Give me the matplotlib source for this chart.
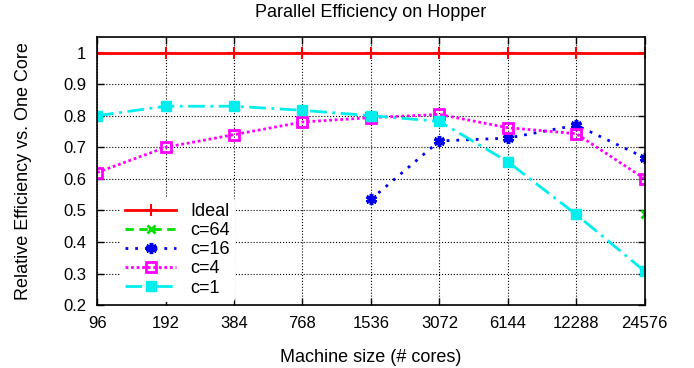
import matplotlib
matplotlib.use('Agg')
import matplotlib.pyplot as plt

plt.rcParams['font.family'] = ['Liberation Sans', 'DejaVu Sans']

cores = [96, 192, 384, 768, 1536, 3072, 6144, 12288, 24576]
ideal = [1, 1, 1, 1, 1, 1, 1, 1, 1]
c64_x = [24576]
c64 = [0.49]
c16_x = [1536, 3072, 6144, 12288, 24576]
c16 = [0.535, 0.72, 0.729, 0.77, 0.667]
c4 = [0.62, 0.70, 0.74, 0.78, 0.794, 0.804, 0.762, 0.743, 0.60]
c1 = [0.80, 0.83, 0.83, 0.817, 0.80, 0.782, 0.654, 0.487, 0.307]
yticks = [0.2, 0.3, 0.4, 0.5, 0.6, 0.7, 0.8, 0.9, 1]

fig = plt.figure(figsize=(6.94, 3.68), dpi=100)
ax = fig.add_axes([0.14, 0.171, 0.789, 0.729])

ax.plot(cores, ideal, color='red', lw=2, marker='+', ms=8, mew=1.5, label='Ideal')
ax.plot(c64_x, c64, color='#00dd00', lw=2, ls=(0, (3, 2)), marker='x', ms=6, mew=2, label='c=64')
ax.plot(c16_x, c16, color='#0000ee', lw=2, ls=(0, (1, 2.5)), marker=(6, 2, 0), ms=8, mew=2.5, label='c=16')
ax.plot(cores, c4, color='#ff00ff', lw=2, ls=(0, (1, 1)), marker='s', ms=7, mfc='none', mew=2, label='c=4')
ax.plot(cores, c1, color='#00eeee', lw=2, ls=(0, (6, 2, 1, 2)), marker='s', ms=7, label='c=1')

ax.set_xscale('log', base=2)
ax.set_xlim(96, 24576)
ax.set_ylim(0.2, 1.05)
ax.set_xticks(cores)
ax.set_xticklabels([str(c) for c in cores])
ax.minorticks_off()
ax.set_yticks(yticks)
ax.set_yticklabels(['0.2', '0.3', '0.4', '0.5', '0.6', '0.7', '0.8', '0.9', '1'])
ax.tick_params(direction='in', top=True, right=True, length=5, width=1, labelsize=12, pad=8)
ax.grid(True, color='black', ls=':', lw=0.8)
ax.set_axisbelow(True)
for s in ax.spines.values():
    s.set_linewidth(1.2)

ax.set_xlabel('Machine size (# cores)', fontsize=13, labelpad=13)
ax.set_ylabel('Relative Efficiency vs. One Core', fontsize=13, labelpad=22)
ax.set_title('Parallel Efficiency on Hopper', fontsize=13, pad=14)

leg = ax.legend(loc='lower left', bbox_to_anchor=(0.025, -0.022), fontsize=13, frameon=True,
                handlelength=2.8, labelspacing=0.12, borderpad=0.3, handletextpad=0.8)
leg.get_frame().set_edgecolor('none')
leg.get_frame().set_facecolor('white')
leg.get_frame().set_alpha(1)

plt.savefig('out.png', dpi=100)
